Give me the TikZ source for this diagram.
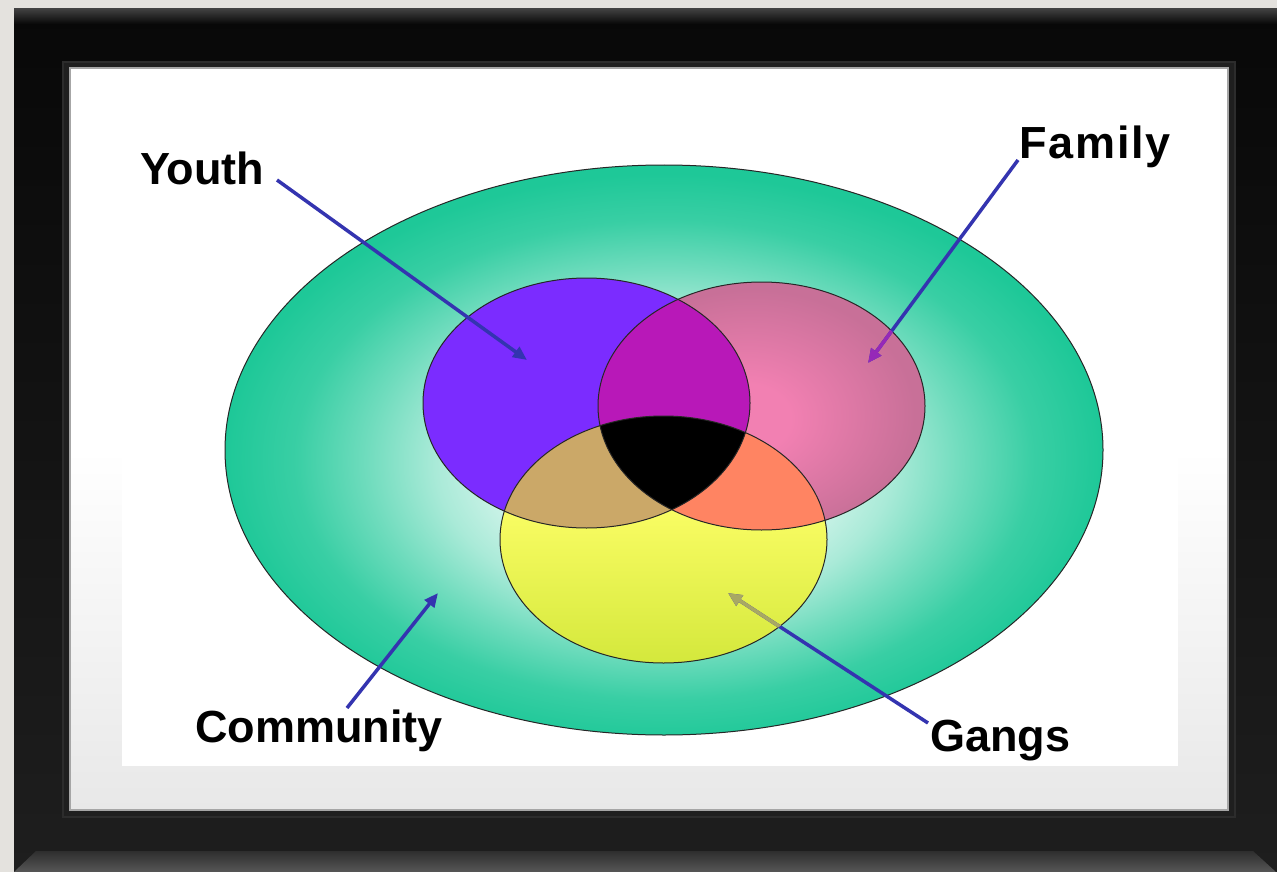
\documentclass[tikz,border=0pt]{standalone}
\usepackage{fontspec}
\setmainfont{Liberation Sans}
\usetikzlibrary{arrows.meta}
\definecolor{bgc}{RGB}{228,226,222}
\definecolor{frtop}{RGB}{8,8,8}
\definecolor{frbot}{RGB}{30,30,30}
\definecolor{lipc}{RGB}{44,44,44}
\definecolor{commout}{RGB}{30,200,152}
\colorlet{cm0}{white!94!commout}
\colorlet{cm1}{white!86!commout}
\colorlet{cm2}{white!62!commout}
\colorlet{cm3}{white!36!commout}
\colorlet{cm4}{white!12!commout}
\definecolor{youthc}{RGB}{123,44,255}
\definecolor{famin}{RGB}{242,128,178}
\definecolor{famout}{RGB}{200,112,152}
\definecolor{gangtop}{RGB}{248,252,98}
\definecolor{gangbot}{RGB}{212,232,60}
\definecolor{yfc}{RGB}{184,24,184}
\definecolor{ygc}{RGB}{203,168,104}
\definecolor{fgc}{RGB}{255,132,98}
\definecolor{arrc}{RGB}{52,52,176}
\definecolor{arrfam}{RGB}{150,40,184}
\definecolor{arrgang}{RGB}{168,168,100}
\pgfdeclareradialshading{commshade}{\pgfpoint{0bp}{-1.5bp}}{color(0bp)=(cm0); color(8bp)=(cm1); color(13bp)=(cm2); color(17bp)=(cm3); color(21bp)=(cm4); color(25bp)=(commout); color(50bp)=(commout)}
\pgfdeclareradialshading{famshade}{\pgfpoint{-3bp}{-3bp}}{color(0bp)=(famin); color(7bp)=(famin); color(25bp)=(famout); color(50bp)=(famout)}
\pgfdeclareverticalshading{gangshade}{100bp}{color(0bp)=(gangbot); color(25bp)=(gangbot); color(55bp)=(gangtop); color(75bp)=(gangtop); color(100bp)=(gangtop)}
\tikzset{
  commE/.style={insert path={(664,450) ellipse [x radius=439, y radius=285]}},
  youthE/.style={insert path={(586.5,403) ellipse [x radius=163.5, y radius=125]}},
  famE/.style={insert path={(761.5,406) ellipse [x radius=163.5, y radius=124]}},
  gangE/.style={insert path={(663.5,539.5) ellipse [x radius=163.5, y radius=123.5]}},
  outl/.style={draw=black!85, line width=1pt},
  arr/.style={draw=arrc, line width=3.5pt, -{Triangle[length=14pt,width=12pt]}},
  lbl/.style={font=\bfseries\fontsize{45}{54}\selectfont, inner sep=0pt, anchor=base west, text=black}
}
\begin{document}
\begin{tikzpicture}[x=1pt,y=-1pt]
\useasboundingbox (0,0) rectangle (1277,872);
% background and frame
\fill[bgc] (0,0) rectangle (1277,872);
\shade[top color=frtop, bottom color=frbot] (14,9) rectangle (1277,872);
\shade[top color=black!75, bottom color=frtop] (14,9) rectangle (1277,24);
\shade[top color=black!82, bottom color=black!66] (14,872) -- (36,851) -- (1253,851) -- (1276,872) -- cycle;
\fill[lipc] (62,61) rectangle (1236,818);
\fill[black!88] (64,63) rectangle (1234,816);
% mat
\fill[white] (70,68) rectangle (1228,450);
\shade[top color=white, bottom color=black!9] (70,450) rectangle (1228,810);
\draw[black!35, line width=1.5pt] (70,68) rectangle (1228,810);
\fill[white] (122,90) rectangle (1178,766);
% community
\path[shading=commshade, commE];
\path[outl, commE];
% circles
\fill[youthc, youthE];
\path[shading=famshade, famE];
\path[shading=gangshade, gangE];
\begin{scope}
  \clip[youthE];
  \fill[yfc, famE];
  \fill[ygc, gangE];
\end{scope}
\begin{scope}
  \clip[famE];
  \fill[fgc, gangE];
  \clip[youthE];
  \fill[black, gangE];
\end{scope}
\path[outl, youthE];
\path[outl, famE];
\path[outl, gangE];
% labels
\node[lbl] (youth) at (140,184) {Youth};
\node[lbl] (family) at (1019,159) {\addfontfeature{LetterSpace=4}Family};
\node[lbl] (community) at (195,742) {Community};
\node[lbl] (gangs) at (930,751) {Gangs};
% arrow end points
\coordinate (ys) at (277,180);
\coordinate (yt) at (527,360);
\coordinate (fs) at (1018,160);
\coordinate (ft) at (868,363);
\coordinate (cs) at (347,708);
\coordinate (ct) at (438,593);
\coordinate (gs) at (928,723);
\coordinate (gt) at (728,593);
\draw[arr] (ys) -- (yt);
\draw[arr] (fs) -- (ft);
\begin{scope}
  \clip[famE];
  \draw[arr, draw=arrfam] (fs) -- (ft);
\end{scope}
\draw[arr] (cs) -- (ct);
\draw[arr] (gs) -- (gt);
\begin{scope}
  \clip[gangE];
  \draw[arr, draw=arrgang] (gs) -- (gt);
\end{scope}
\end{tikzpicture}
\end{document}
